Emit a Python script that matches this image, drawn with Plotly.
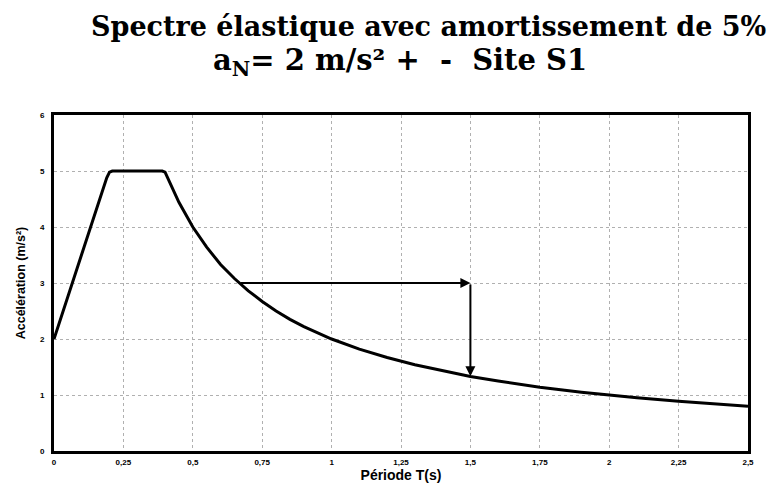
import plotly.graph_objects as go

# Data
periode_T = [0, 0.05, 0.1, 0.15, 0.19, 0.2, 0.21, 0.3, 0.39, 0.4, 0.42, 0.45, 0.5, 0.55,
             0.6, 0.65, 0.7, 0.75, 0.8, 0.85, 0.9, 1.0, 1.1, 1.2, 1.3, 1.4, 1.5, 1.6,
             1.75, 1.9, 2.0, 2.1, 2.25, 2.4, 2.5]
acceleration = [2.0, 2.75, 3.5, 4.25, 4.88, 4.98, 5.0, 5.0, 5.0, 4.98, 4.76, 4.44, 4.0, 3.64,
                3.33, 3.08, 2.86, 2.67, 2.5, 2.35, 2.22, 2.0, 1.82, 1.67, 1.54, 1.43, 1.33, 1.25,
                1.14, 1.05, 1.0, 0.95, 0.89, 0.83, 0.8]

# arrow path: horizontal then vertical
arrow_T = [0.667, 1.5, 1.5]
arrow_A = [3.0, 3.0, 1.333]

x_tickvals = [0, 0.25, 0.5, 0.75, 1, 1.25, 1.5, 1.75, 2, 2.25, 2.5]
x_ticktext = ["0", "0,25", "0,5", "0,75", "1", "1,25", "1,5", "1,75", "2", "2,25", "2,5"]
y_tickvals = [0, 1, 2, 3, 4, 5, 6]
y_ticktext = ["0", "1", "2", "3", "4", "5", "6"]

fig = go.Figure()
fig.add_trace(go.Scatter(x=periode_T, y=acceleration, mode="lines",
                         line=dict(color="black", width=3), showlegend=False,
                         hoverinfo="skip"))

# arrows
fig.add_annotation(x=arrow_T[1], y=arrow_A[1], ax=arrow_T[0], ay=arrow_A[0],
                   xref="x", yref="y", axref="x", ayref="y", text="",
                   showarrow=True, arrowhead=2, arrowsize=1, arrowwidth=2, arrowcolor="black")
fig.add_annotation(x=arrow_T[2], y=arrow_A[2], ax=arrow_T[1], ay=arrow_A[1],
                   xref="x", yref="y", axref="x", ayref="y", text="",
                   showarrow=True, arrowhead=2, arrowsize=1, arrowwidth=2, arrowcolor="black")

title_font = dict(family="DejaVu Serif", size=27, color="black", weight="bold")
fig.add_annotation(text="Spectre élastique avec amortissement de 5%",
                   xref="paper", yref="paper", x=(428 - 54) / 694, y=(451 - 26) / 336,
                   xanchor="center", yanchor="middle", showarrow=False, font=title_font)
fig.add_annotation(text="a<sub>N</sub>= 2 m/s² +  -  Site S1",
                   xref="paper", yref="paper", x=(400 - 54) / 694, y=(451 - 62) / 336,
                   xanchor="center", yanchor="middle", showarrow=False,
                   font=dict(family="DejaVu Serif", size=29, color="black", weight="bold"))

tick_font = dict(family="Liberation Sans", size=8, color="black", weight="bold")
axis_common = dict(showline=True, linecolor="black", linewidth=3, mirror=True,
                   showgrid=True, gridcolor="#b0b0b0", gridwidth=1, griddash="dot",
                   zeroline=False, ticks="", tickfont=tick_font, automargin=False)

fig.update_xaxes(range=[0, 2.5], tickvals=x_tickvals, ticktext=x_ticktext,
                 ticklabelstandoff=1,
                 title=dict(text="Période T(s)", standoff=3,
                            font=dict(family="Liberation Sans", size=14, color="black", weight="bold")),
                 **axis_common)
fig.update_yaxes(range=[0, 6], tickvals=y_tickvals, ticktext=y_ticktext,
                 ticklabelstandoff=5,
                 title=dict(text="Accélération (m/s²)", standoff=12,
                            font=dict(family="Liberation Sans", size=12.5, color="black", weight="bold")),
                 **axis_common)

fig.update_layout(width=778, height=485, autosize=False,
                  margin=dict(l=54, r=30, t=115, b=34),
                  paper_bgcolor="white", plot_bgcolor="white")

fig.write_html("out.html")
